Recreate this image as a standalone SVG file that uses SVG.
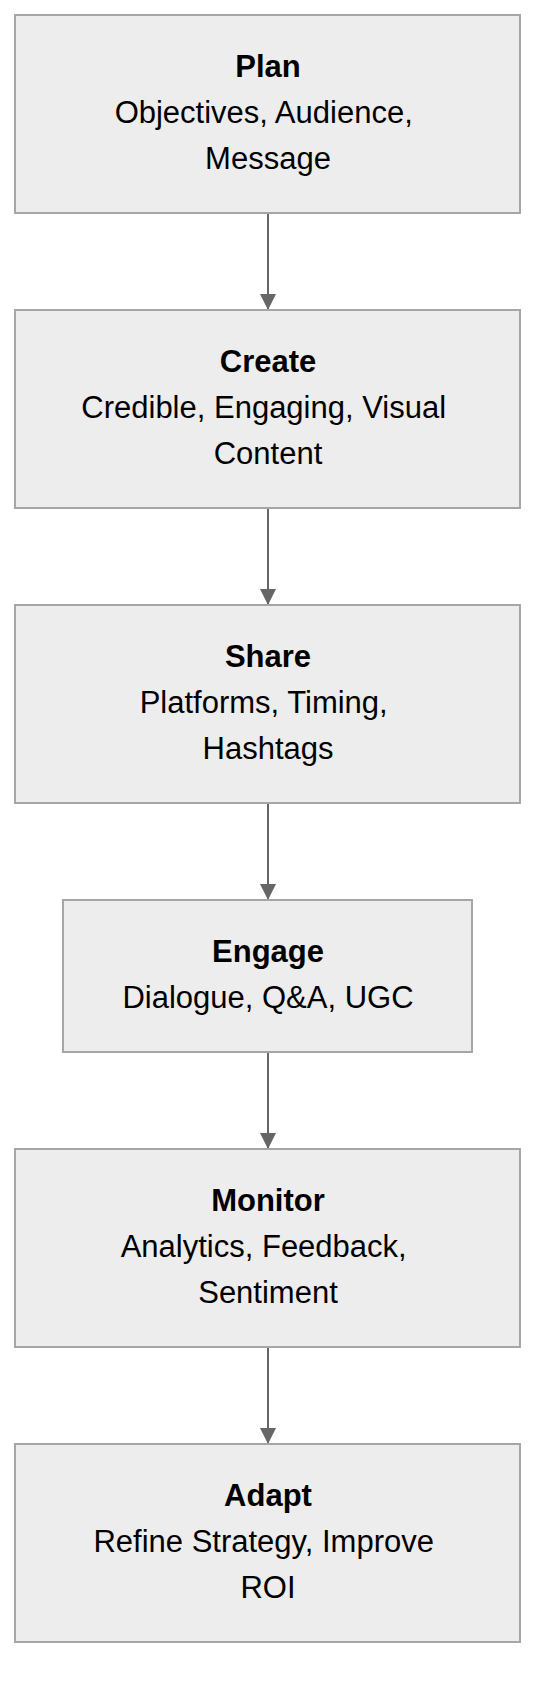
<svg xmlns="http://www.w3.org/2000/svg" width="552" height="1708" viewBox="0 0 552 1708">
<defs>
<style>
.box{fill:#ededed;stroke:#a6a6a6;stroke-width:2}
.t{font-family:"Liberation Sans",Arial,sans-serif;font-size:31px;fill:#000;text-anchor:middle}
.b{font-weight:bold}
.edge{stroke:#666;stroke-width:2;fill:none}
</style>
<marker id="arr" viewBox="0 0 16 16" refX="16" refY="8" markerWidth="16" markerHeight="16" markerUnits="userSpaceOnUse" orient="auto">
<path d="M0,0 L16,8 L0,16 Z" fill="#666"/>
</marker>
</defs>
<rect width="552" height="1708" fill="#fff"/>
<g id="connectors">
<line class="edge" x1="268" y1="213" x2="268" y2="310" marker-end="url(#arr)"/>
<line class="edge" x1="268" y1="508" x2="268" y2="605" marker-end="url(#arr)"/>
<line class="edge" x1="268" y1="803" x2="268" y2="900" marker-end="url(#arr)"/>
<line class="edge" x1="268" y1="1052" x2="268" y2="1149" marker-end="url(#arr)"/>
<line class="edge" x1="268" y1="1347" x2="268" y2="1444" marker-end="url(#arr)"/>
</g>
<g id="plan">
<rect class="box" x="15" y="15" width="505" height="198"/>
<text class="t b" x="268" y="77">Plan</text>
<text class="t" x="263.7" y="123">Objectives, Audience,</text>
<text class="t" x="268" y="169">Message</text>
</g>
<g id="create">
<rect class="box" x="15" y="310" width="505" height="198"/>
<text class="t b" x="268" y="372">Create</text>
<text class="t" x="263.7" y="418">Credible, Engaging, Visual</text>
<text class="t" x="268" y="464">Content</text>
</g>
<g id="share">
<rect class="box" x="15" y="605" width="505" height="198"/>
<text class="t b" x="268" y="667">Share</text>
<text class="t" x="263.7" y="713">Platforms, Timing,</text>
<text class="t" x="268" y="759">Hashtags</text>
</g>
<g id="engage">
<rect class="box" x="63" y="900" width="409" height="152"/>
<text class="t b" x="268" y="962">Engage</text>
<text class="t" x="268" y="1008">Dialogue, Q&amp;A, UGC</text>
</g>
<g id="monitor">
<rect class="box" x="15" y="1149" width="505" height="198"/>
<text class="t b" x="268" y="1211">Monitor</text>
<text class="t" x="263.7" y="1257">Analytics, Feedback,</text>
<text class="t" x="268" y="1303">Sentiment</text>
</g>
<g id="adapt">
<rect class="box" x="15" y="1444" width="505" height="198"/>
<text class="t b" x="268" y="1506">Adapt</text>
<text class="t" x="263.7" y="1552">Refine Strategy, Improve</text>
<text class="t" x="268" y="1598">ROI</text>
</g>
</svg>
